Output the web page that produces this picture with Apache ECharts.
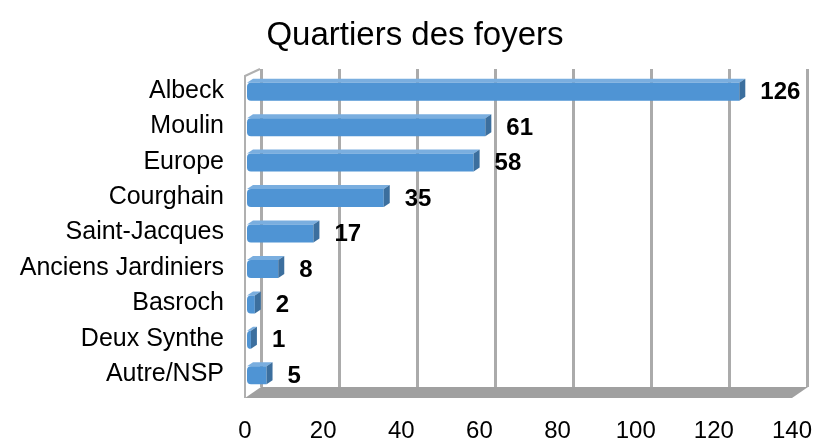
<!DOCTYPE html>
<html>
<head>
<meta charset="utf-8">
<script src="https://cdn.jsdelivr.net/npm/echarts@6/dist/echarts.min.js"></script>
<style>
  html, body { margin: 0; padding: 0; background: #fff; }
  #chart { width: 817px; height: 443px; }
</style>
</head>
<body>
<div id="chart"></div>
<script>
// quartiers et nombre de foyers
const quartiers = ['Albeck', 'Moulin', 'Europe', 'Courghain', 'Saint-Jacques',
  'Anciens Jardiniers', 'Basroch', 'Deux Synthe', 'Autre/NSP'];
const foyers = [126, 61, 58, 35, 17, 8, 2, 1, 5];
const ticks = [0, 20, 40, 60, 80, 100, 120, 140];

const chart = echarts.init(document.getElementById('chart'));

// barre "3D" : face avant + dessus + bout
function renderBar(params, api) {
  const cat = api.value(0);
  const v = api.value(1);
  const a = api.coord([0, cat]);
  const b = api.coord([v, cat]);
  const h = 9, dx = 6, dy = 4;
  const x0 = a[0] + 2, x1 = Math.max(b[0] + 2, x0 + 3), y = a[1] + 1;
  return {
    type: 'group',
    children: [
      { type: 'polygon', shape: { points: [[x0, y - h], [x0 + dx, y - h - dy], [x1 + dx, y - h - dy], [x1, y - h]] },
        style: { fill: '#7aaedf' } },
      { type: 'rect', shape: { x: x0, y: y - h, width: x1 - x0, height: 2 * h, r: [4, 0, 0, 4] },
        style: { fill: '#4f94d4' } },
      { type: 'polygon', shape: { points: [[x1, y - h], [x1 + dx, y - h - dy], [x1 + dx, y + h - dy], [x1, y + h]] },
        style: { fill: '#3c6f9e' } },
      { type: 'text', x: x1 + dx + 15, y: y + 1,
        style: { text: String(v), fill: '#000', font: 'bold 24px "Liberation Sans", Arial, sans-serif',
          align: 'left', verticalAlign: 'middle' } }
    ]
  };
}

chart.setOption({
  animation: false,
  title: {
    text: 'Quartiers des foyers',
    left: 410, top: 14, textAlign: 'center',
    textStyle: { fontFamily: 'Liberation Sans', fontSize: 33, fontWeight: 'normal', color: '#000' }
  },
  graphic: [
    // sol
    { type: 'polygon', z: 0, shape: { points: [[245, 398], [261, 387], [808, 387], [792, 398]] },
      style: { fill: '#a0a0a0' } },
    // paroi gauche
    { type: 'polyline', z: 0, shape: { points: [[245, 398], [245, 76], [260, 69]] },
      style: { stroke: '#b0b0b0', lineWidth: 2, fill: null } }
  ],
  grid: [
    { left: 261, right: 10, top: 69, bottom: 56 },   // paroi du fond
    { left: 245, right: 25, top: 73, bottom: 48 }    // avant
  ],
  xAxis: [
    { gridIndex: 0, type: 'value', min: 0, max: 140, interval: 20,
      axisLabel: { show: false }, axisLine: { show: false }, axisTick: { show: false },
      splitLine: { show: true, lineStyle: { color: '#ababab', width: 3 } } },
    { gridIndex: 1, type: 'value', min: 0, max: 140, interval: 20,
      axisLine: { show: false }, axisTick: { show: false }, splitLine: { show: false },
      axisLabel: { margin: 27, color: '#000', fontSize: 24, fontFamily: 'Liberation Sans',
        formatter: v => ticks.includes(v) ? String(v) : '' } }
  ],
  yAxis: [
    { gridIndex: 0, type: 'category', data: quartiers, inverse: true, show: false },
    { gridIndex: 1, type: 'category', data: quartiers, inverse: true,
      axisLine: { show: false }, axisTick: { show: false },
      axisLabel: { margin: 21, color: '#000', fontSize: 25, fontFamily: 'Liberation Sans' } }
  ],
  series: [{
    type: 'custom',
    xAxisIndex: 1, yAxisIndex: 1,
    renderItem: renderBar,
    encode: { x: 1, y: 0 },
    data: foyers.map((v, i) => [i, v]),
    z: 5
  }]
});
</script>
</body>
</html>
